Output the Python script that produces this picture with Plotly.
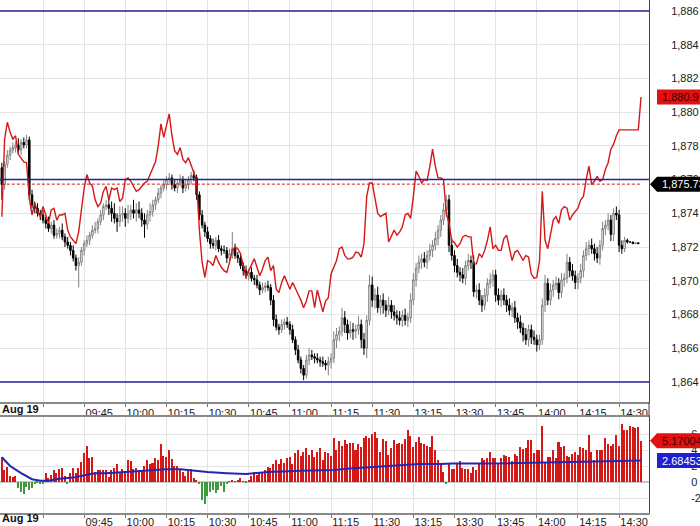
import plotly.graph_objects as go


def _session(start, end):
    h, m = start
    out = []
    while (h, m) <= end:
        out.append(f"{h:02d}:{m:02d}")
        m += 1
        if m == 60:
            h, m = h + 1, 0
    return out


# one bar per minute: morning 09:15-11:30, afternoon from 13:01
minutes = _session((9, 15), (11, 30)) + _session((13, 1), (14, 38))

tick_times = ["09:30", "09:45", "10:00", "10:15", "10:30", "10:45", "11:00",
              "11:15", "11:30", "13:15", "13:30", "13:45", "14:00", "14:15", "14:30"]
date_label = "Aug 19"

first_open = 1876.7
closes = [
    1875.7, 1876.9, 1877.45, 1877.75, 1877.9, 1878.05, 1877.75, 1878.2, 1878.05, 1878.35,
    1875.1, 1874.5, 1874.3, 1874.0, 1873.9, 1873.6, 1873.4, 1873.1, 1873.3, 1872.7,
    1872.8, 1873.0, 1872.6, 1872.3, 1872.1, 1871.8, 1871.35, 1870.9, 1871.1, 1871.8,
    1872.2, 1872.4, 1872.7, 1873.0, 1873.1, 1873.5, 1873.9, 1874.4, 1874.5, 1874.3,
    1874.0, 1873.7, 1873.5, 1873.9, 1874.0, 1873.7, 1874.0, 1874.2, 1874.0, 1874.2,
    1874.0, 1873.6, 1873.35, 1873.9, 1874.1, 1874.5, 1874.8, 1875.2, 1875.5, 1875.7,
    1876.0, 1876.1, 1875.7, 1875.5, 1875.8, 1876.0, 1875.5, 1875.7, 1876.0, 1876.25,
    1876.1, 1875.1, 1873.9, 1873.3, 1872.9, 1872.5, 1872.2, 1872.1, 1872.4, 1871.9,
    1871.8, 1871.8, 1871.35, 1871.6, 1871.9, 1871.5, 1871.35, 1870.9, 1870.6, 1870.3,
    1870.5, 1870.15, 1870.05, 1869.75, 1869.45, 1869.6, 1869.7, 1869.6, 1868.85, 1867.7,
    1867.25, 1867.1, 1867.4, 1867.55, 1867.4, 1867.1, 1866.5, 1865.9, 1865.3, 1864.8,
    1864.4, 1865.3, 1865.6, 1865.5, 1865.4, 1865.3, 1865.2, 1865.1, 1865.0, 1865.2,
    1865.4, 1866.5, 1866.8, 1867.0, 1867.8, 1867.4, 1866.9, 1867.1, 1867.0, 1867.1,
    1867.4, 1866.5, 1866.0, 1867.65, 1869.75, 1868.85, 1869.15, 1868.4, 1868.85, 1868.55,
    1868.25, 1868.55, 1868.15, 1867.95, 1867.8, 1867.65, 1867.95, 1867.65, 1867.8, 1868.85,
    1870.05, 1870.75, 1871.1, 1871.3, 1871.1, 1871.5, 1871.8, 1872.1, 1872.5, 1873.0,
    1873.6, 1874.2, 1874.8, 1872.1, 1871.5, 1870.9, 1870.5, 1870.35, 1870.15, 1870.9,
    1871.2, 1871.1, 1869.35, 1869.45, 1868.85, 1868.55, 1869.15, 1869.85, 1870.05, 1870.35,
    1869.15, 1868.85, 1869.15, 1868.85, 1868.55, 1868.25, 1868.4, 1867.8, 1867.55, 1867.2,
    1866.8, 1866.5, 1867.1, 1866.65, 1866.5, 1866.2, 1866.5, 1868.55, 1869.85, 1868.85,
    1869.45, 1869.75, 1869.85, 1869.3, 1870.05, 1870.15, 1871.1, 1870.6, 1870.3, 1869.9,
    1870.15, 1870.6, 1871.5, 1871.9, 1872.1, 1871.9, 1871.6, 1871.35, 1872.1, 1873.1,
    1873.3, 1873.6, 1872.75, 1874.0, 1873.9, 1872.1, 1871.9, 1872.4, 1872.3, 1872.3,
    1872.2, 1872.25, 1872.2,
]
# wick length above / below each body (price units)
up_wick = [
    0.3, 0.2, 0.3, 0.2, 0.3, 0.2, 0.4, 0.2, 0.3, 0.3,
    0.2, 0.3, 0.2, 0.3, 0.2, 0.3, 0.2, 0.4, 0.2, 0.3,
    0.3, 0.2, 0.4, 0.2, 0.3, 0.2, 0.3, 0.2, 0.3, 0.2,
    0.2, 0.3, 0.2, 0.3, 0.4, 0.2, 0.3, 0.2, 0.3, 0.5,
    0.4, 0.6, 0.3, 0.5, 0.4, 0.3, 0.5, 0.3, 0.6, 0.4,
    0.5, 0.3, 0.4, 0.3, 0.5, 0.3, 0.2, 0.3, 0.2, 0.3,
    0.2, 0.3, 0.2, 0.3, 0.2, 0.3, 0.2, 0.3, 0.2, 0.2,
    0.3, 0.2, 0.2, 0.3, 0.2, 0.3, 0.2, 0.3, 0.2, 0.3,
    0.2, 0.3, 0.2, 0.3, 1.0, 0.3, 0.2, 0.3, 0.2, 0.3,
    0.2, 0.3, 0.2, 0.3, 0.2, 0.3, 0.2, 0.3, 0.2, 0.3,
    0.3, 0.2, 0.3, 0.2, 0.3, 0.2, 0.3, 0.2, 0.3, 0.2,
    0.2, 0.3, 0.4, 0.3, 0.2, 0.3, 0.2, 0.3, 0.2, 0.3,
    0.3, 0.5, 0.4, 0.3, 0.6, 0.4, 0.3, 0.5, 0.4, 0.3,
    0.5, 0.3, 0.4, 0.3, 0.6, 0.5, 0.4, 0.5, 0.3, 0.4,
    0.3, 0.5, 0.3, 0.4, 0.3, 0.4, 0.3, 0.4, 0.3, 0.4,
    0.4, 0.3, 0.4, 0.3, 0.4, 0.3, 0.4, 0.3, 0.4, 0.3,
    0.3, 0.4, 0.3, 0.3, 0.4, 0.3, 0.4, 0.3, 0.4, 0.3,
    0.4, 0.3, 0.4, 0.3, 0.4, 0.3, 0.4, 0.3, 0.4, 0.3,
    0.3, 0.4, 0.3, 0.4, 0.3, 0.4, 0.3, 0.4, 0.3, 0.4,
    0.3, 0.4, 0.3, 0.3, 0.4, 0.3, 0.3, 0.4, 0.5, 0.3,
    0.4, 0.3, 0.4, 0.3, 0.4, 0.3, 0.5, 0.3, 0.4, 0.3,
    0.3, 0.4, 0.3, 0.4, 0.3, 0.4, 0.3, 0.4, 0.3, 0.4,
    0.3, 0.4, 0.3, 0.3, 0.4, 0.3, 0.3, 0.2, 0.1, 0.0,
    0.0, 0.0, 0.0,
]
down_wick = [
    0.9, 0.3, 0.2, 0.3, 0.2, 0.3, 0.2, 0.3, 0.2, 0.2,
    0.3, 0.2, 0.3, 0.2, 0.3, 0.2, 0.3, 0.2, 0.3, 0.2,
    0.2, 0.3, 0.2, 0.3, 0.2, 0.3, 0.2, 0.3, 1.3, 0.2,
    0.3, 0.2, 0.3, 0.2, 0.2, 0.3, 0.2, 0.3, 0.2, 0.4,
    0.5, 0.3, 0.6, 0.3, 0.4, 0.5, 0.3, 0.4, 0.3, 0.5,
    0.3, 0.4, 0.8, 0.3, 0.4, 0.3, 0.3, 0.2, 0.3, 0.2,
    0.3, 0.2, 0.3, 0.2, 0.3, 0.2, 0.3, 0.2, 0.3, 0.3,
    0.2, 0.3, 0.3, 0.2, 0.3, 0.2, 0.3, 0.2, 0.3, 0.2,
    0.3, 0.2, 0.3, 0.2, 0.3, 0.2, 0.3, 0.2, 0.3, 0.2,
    0.3, 0.2, 0.3, 0.2, 0.3, 0.2, 0.3, 0.2, 0.3, 0.4,
    0.2, 0.3, 0.2, 0.3, 0.2, 0.3, 0.2, 0.3, 0.2, 0.3,
    0.3, 0.2, 0.3, 0.2, 0.3, 0.2, 0.3, 0.2, 0.3, 0.6,
    0.4, 0.3, 0.5, 0.4, 0.3, 0.5, 0.4, 0.3, 0.5, 0.4,
    0.3, 0.5, 0.4, 0.6, 0.3, 0.4, 0.5, 0.3, 0.4, 0.5,
    0.4, 0.3, 0.4, 0.3, 0.4, 0.3, 0.4, 0.3, 0.4, 0.3,
    0.3, 0.4, 0.3, 0.4, 0.3, 0.4, 0.3, 0.4, 0.3, 0.4,
    0.4, 0.3, 0.4, 0.4, 0.3, 0.4, 0.3, 0.4, 0.3, 0.4,
    0.3, 0.4, 0.3, 0.4, 0.3, 0.4, 0.3, 0.4, 0.3, 0.4,
    0.4, 0.3, 0.4, 0.3, 0.4, 0.3, 0.4, 0.3, 0.4, 0.3,
    0.4, 0.3, 0.4, 0.4, 0.3, 0.4, 0.3, 0.3, 0.4, 0.3,
    0.3, 0.4, 0.3, 0.4, 0.3, 0.4, 0.3, 0.4, 0.3, 0.4,
    0.4, 0.3, 0.4, 0.3, 0.4, 0.3, 0.4, 0.3, 0.4, 0.3,
    0.4, 0.3, 0.4, 0.4, 0.3, 0.4, 0.3, 0.2, 0.1, 0.0,
    0.0, 0.0, 0.0,
]

red_line = [
    1873.8, 1878.4, 1879.4, 1878.8, 1878.4, 1878.6, 1877.5, 1877.3, 1877.05, 1877.0,
    1874.9, 1873.9, 1874.6, 1874.1, 1873.8, 1874.4, 1873.9, 1873.4, 1874.2, 1874.3,
    1873.6, 1873.9, 1873.9, 1874.0, 1873.0, 1872.6, 1872.4, 1872.2, 1872.9, 1874.3,
    1875.5, 1876.3, 1875.8, 1875.6, 1874.8, 1874.4, 1874.6, 1875.3, 1875.6, 1874.8,
    1875.5, 1875.4, 1875.5, 1874.7, 1874.9, 1876.0, 1876.1, 1875.9, 1875.6, 1875.3,
    1875.4, 1875.6, 1875.8, 1875.9, 1876.3, 1876.7, 1877.05, 1878.0, 1879.3, 1878.5,
    1879.3, 1879.9, 1878.6, 1877.7, 1877.5, 1877.9, 1877.2, 1877.0, 1877.3, 1876.9,
    1876.4, 1875.9, 1873.0, 1871.1, 1870.2, 1871.2, 1871.1, 1870.9, 1871.5, 1871.1,
    1870.8, 1870.6, 1870.5, 1871.1, 1871.8, 1872.0, 1871.9, 1871.6, 1870.9, 1870.2,
    1870.6, 1871.0, 1871.3, 1870.8, 1870.3, 1870.7, 1871.2, 1871.4, 1870.6, 1870.9,
    1869.5, 1869.3, 1869.9, 1870.3, 1869.9, 1869.5, 1869.9, 1869.5, 1869.2, 1868.85,
    1868.4, 1868.8, 1869.4, 1869.4, 1868.4, 1869.45, 1868.8, 1868.15, 1868.8, 1869.0,
    1870.4, 1870.8, 1871.2, 1871.9, 1872.0, 1871.5, 1871.3, 1871.3, 1871.4, 1871.7,
    1871.65, 1871.4, 1872.2, 1875.0, 1875.8, 1875.8, 1875.0, 1874.0, 1873.8, 1873.9,
    1874.0, 1872.3, 1872.7, 1873.0, 1872.7, 1872.9, 1873.2, 1873.9, 1874.0, 1873.7,
    1875.0, 1876.5, 1876.2, 1875.8, 1876.0, 1875.95, 1876.75, 1877.8, 1876.8, 1876.1,
    1876.1, 1876.0, 1874.0, 1873.4, 1872.4, 1872.25, 1872.0, 1872.2, 1872.6, 1872.7,
    1872.6, 1872.6, 1871.0, 1871.0, 1871.6, 1871.4, 1871.8, 1872.4, 1873.2, 1871.9,
    1872.1, 1871.8, 1871.8, 1872.5, 1872.7, 1872.0, 1871.2, 1871.7, 1871.8, 1871.5,
    1871.2, 1871.5, 1871.4, 1870.4, 1870.15, 1870.2, 1871.2, 1875.3, 1872.4, 1871.9,
    1872.8, 1873.6, 1873.8, 1873.4, 1874.2, 1874.4, 1874.3, 1873.6, 1873.9, 1874.1,
    1874.3, 1874.8, 1875.0, 1876.0, 1876.8, 1875.7, 1875.9, 1876.2, 1875.9, 1876.0,
    1876.6, 1877.0, 1877.8, 1878.1, 1878.6, 1878.95, 1878.95, 1878.95, 1878.95, 1878.95,
    1878.95, 1878.95, 1878.95, 1880.9,
]

osc_bars = [
    3.1, 1.5, 1.9, 0.7, 0.6, 0.8, -0.75, -1.2, -1.45, -0.6,
    -1.0, -0.75, -0.3, -0.1, -0.3, -0.25, 1.1, 0.5, 0.9, 1.5,
    1.1, 1.6, 1.7, 0.8, -0.3, 1.1, 1.75, 1.1, 1.75, 2.5,
    3.6, 4.5, 3.0, 3.1, 1.3, 1.5, 1.5, 1.5, 1.5, 0.6,
    1.5, 1.75, 2.25, 1.1, 1.6, 1.3, 2.7, 2.6, 1.6, 1.8,
    1.3, 1.5, 2.0, 2.8, 2.2, 2.4, 3.0, 2.8, 4.7, 3.3,
    3.1, 4.0, 2.9, 2.0, 2.0, 1.6, 1.3, 0.8, 1.5, 1.6,
    0.5, 0.3, -0.3, -2.2, -2.8, -1.8, -1.2, -1.0, -1.4, -1.0,
    -0.55, -1.2, -0.3, 0.1, 0.3, 0.1, 0.15, 0.5, 0.1, -0.1,
    0.3, 0.8, 1.3, 0.9, 1.1, 1.3, 1.5, 1.9, 1.75, 2.2,
    2.7, 2.3, 2.9, 2.4, 3.0, 3.1, 2.2, 3.6, 4.0, 3.2,
    3.8, 4.25, 3.4, 4.0, 3.1, 3.7, 4.25, 2.8, 3.8, 3.6,
    3.3, 5.5, 4.0, 5.1, 4.5, 5.3, 4.7, 4.9, 4.9, 4.0,
    4.7, 4.4, 5.5, 5.7, 5.5, 6.0, 6.2, 5.5, 3.8, 5.4,
    5.1, 3.4, 4.25, 5.3, 4.7, 4.9, 4.8, 5.4, 6.5, 5.8,
    4.4, 5.0, 5.6, 4.9, 4.8, 4.45, 4.4, 5.8, 4.0, 2.7,
    2.2, 1.2, -0.3, 2.2, 1.6, 1.6, 2.2, 2.6, 1.75, 1.6,
    1.6, 1.1, 1.9, 1.5, 2.2, 3.0, 2.7, 3.0, 3.7, 3.0,
    3.0, 2.2, 3.0, 3.4, 3.3, 3.1, 2.6, 3.5, 3.2, 4.4,
    4.1, 4.2, 5.3, 5.3, 3.6, 4.0, 4.0, 7.0, 2.4, 3.1,
    3.1, 4.0, 3.0, 5.0, 4.4, 4.5, 3.3, 3.1, 3.5, 3.8,
    3.4, 4.4, 4.2, 4.0, 5.9, 3.8, 2.8, 4.0, 4.0, 4.0,
    5.5, 4.7, 4.5, 4.8, 5.9, 4.45, 7.2, 6.5, 6.5, 7.0,
    6.9, 6.75, 6.9, 5.17,
]

# smoothed average of the oscillator (bar index, value)
avg_idx = [0, 3, 7, 11, 14, 17, 21, 26, 31, 34, 38, 48, 55, 60, 65, 70, 75, 82,
           89, 92, 97, 109, 121, 127, 140, 152, 160, 164, 176, 188, 201, 213, 225, 233]
avg_val = [3.1, 2.0, 1.1, 0.35, 0.15, 0.15, 0.4, 0.55, 0.9, 1.1, 1.1, 1.3, 1.5, 1.6,
           1.6, 1.4, 1.25, 1.1, 1.0, 1.1, 1.25, 1.4, 1.5, 1.7, 2.0, 2.25, 2.25, 2.3,
           2.3, 2.4, 2.45, 2.55, 2.62, 2.68]

levels = [1886, 1876, 1864]
ref_price = 1875.73
last_red = 1880.9
osc_last = 5.17004
avg_last = 2.68453

main_ticks = list(range(1864, 1887, 2))
osc_ticks = [-2, 0, 2, 4, 6]

NAVY = "#23239a"
RED = "#d41818"
GRID = "#e4e4e4"
FONT = "Liberation Sans, Arial, sans-serif"

# candle bodies: open is previous close
opens = [first_open] + closes[:-1]
highs = [max(o, c) + w for o, c, w in zip(opens, closes, up_wick)]
lows = [min(o, c) - w for o, c, w in zip(opens, closes, down_wick)]
idx = list(range(len(minutes)))
tick_idx = [minutes.index(t) for t in tick_times]
tick_txt = ["" if t == "09:30" else t for t in tick_times]

MAIN_DOM = [0.2164, 1.0]
OSC_DOM = [0.0, 0.1871]
MAIN_RNG = [1862.81, 1886.65]
OSC_RNG = [-3.875, 8.125]
X_RNG = [-0.68, 235.9]


def to_paper(v, rng, dom):
    return dom[0] + (v - rng[0]) / (rng[1] - rng[0]) * (dom[1] - dom[0])


fig = go.Figure()

fig.add_trace(go.Scatter(
    x=[idx[0], idx[len(closes)]], y=[ref_price, ref_price], mode="lines",
    line=dict(color=RED, width=1, dash="3px,2px"), hoverinfo="skip",
))
fig.add_trace(go.Candlestick(
    x=idx[:len(closes)], open=opens, high=highs, low=lows, close=closes,
    increasing=dict(line=dict(color="#808080", width=1), fillcolor="#ffffff"),
    decreasing=dict(line=dict(color="#000000", width=1), fillcolor="#000000"),
    whiskerwidth=0, hoverinfo="skip", xaxis="x", yaxis="y",
))
for lv in levels:
    fig.add_hline(y=lv, line=dict(color=NAVY, width=1.5), layer="above")
fig.add_trace(go.Scatter(
    x=idx, y=red_line, mode="lines", line=dict(color=RED, width=1.4),
    hoverinfo="skip", xaxis="x", yaxis="y",
))

fig.add_trace(go.Bar(
    x=idx, y=osc_bars, width=0.55,
    marker=dict(color=[RED if v >= 0 else "#3d9a3d" for v in osc_bars], line_width=0),
    hoverinfo="skip", xaxis="x2", yaxis="y2",
))
fig.add_trace(go.Scatter(
    x=avg_idx, y=avg_val, mode="lines", line=dict(color="#2525b5", width=2),
    hoverinfo="skip", xaxis="x2", yaxis="y2",
))

xcommon = dict(
    range=X_RNG, tickvals=tick_idx, ticktext=tick_txt, ticks="outside", ticklen=3,
    tickcolor="#777", showline=True, linecolor="#8a8a8a", linewidth=1.5,
    showgrid=True, gridcolor=GRID, zeroline=False, ticklabelposition="outside right",
    tickfont=dict(family=FONT, size=11, color="#222"), automargin=False,
)
fig.update_layout(
    width=700, height=526, margin=dict(l=0, r=51, t=0, b=13, autoexpand=False),
    paper_bgcolor="white", plot_bgcolor="white", showlegend=False,
    bargap=0, boxgap=0.2,
    xaxis=dict(anchor="y", domain=[0, 1], rangeslider=dict(visible=False), **xcommon),
    xaxis2=dict(anchor="y2", domain=[0, 1], mirror=True, ticklabelstandoff=-2, **xcommon),
    yaxis=dict(
        domain=MAIN_DOM, range=MAIN_RNG, side="right", tickvals=main_ticks,
        ticktext=[f"{v:,d}" for v in main_ticks], showline=True, linecolor="#444",
        gridcolor=GRID, zeroline=False, ticks="", ticklabelstandoff=19, automargin=False,
        tickfont=dict(family=FONT, size=11, color="#222"),
    ),
    yaxis2=dict(
        domain=OSC_DOM, range=OSC_RNG, side="right", tickvals=osc_ticks,
        ticktext=[str(v) for v in osc_ticks], showline=True, linecolor="#444",
        gridcolor=GRID, zeroline=True, zerolinecolor="#c8c8c8", ticks="", automargin=False,
        ticklabelstandoff=39, tickfont=dict(family=FONT, size=11, color="#222"),
    ),
)

# right border across the gap between the panels
fig.add_shape(type="line", xref="paper", yref="paper", x0=1, x1=1,
              y0=OSC_DOM[1], y1=MAIN_DOM[0], line=dict(color="#444", width=1))

for ypos in (MAIN_DOM[0] - 0.0138, -0.0097):
    fig.add_annotation(text=f"<b>{date_label}</b>", xref="x", x=tick_idx[0], xanchor="right",
                       xshift=-2, yref="paper", y=ypos, yanchor="middle", showarrow=False,
                       font=dict(family=FONT, size=11, color="#111"))

H = 7.5 / 513
TIP, SHOULDER, RIGHT = 650 / 649, 657 / 649, 1.09


def tag(value, rng, dom, text, bg, fg, pointed):
    yc = to_paper(value, rng, dom)
    if pointed:
        path = (f"M {TIP},{yc} L {SHOULDER},{yc + H} L {RIGHT},{yc + H} "
                f"L {RIGHT},{yc - H} L {SHOULDER},{yc - H} Z")
        fig.add_shape(type="path", path=path, xref="paper", yref="paper",
                      fillcolor=bg, line=dict(color=bg, width=0), layer="above")
    else:
        fig.add_shape(type="rect", xref="paper", yref="paper", x0=SHOULDER, x1=RIGHT,
                      y0=yc - H, y1=yc + H, fillcolor=bg, line=dict(width=0), layer="above")
    fig.add_annotation(text=text, xref="paper", x=660 / 649, xanchor="left",
                       yref="paper", y=yc, yanchor="middle", showarrow=False,
                       font=dict(family=FONT, size=11, color=fg))


tag(last_red, MAIN_RNG, MAIN_DOM, f"{last_red:,.1f}", "#e31010", "#3a0000", False)
tag(ref_price, MAIN_RNG, MAIN_DOM, f"{ref_price:,.2f}", "#000000", "#ffffff", True)
tag(osc_last, OSC_RNG, OSC_DOM, f"{osc_last:.5f}", "#e31010", "#3a0000", True)
tag(avg_last, OSC_RNG, OSC_DOM, f"{avg_last:.5f}", "#2020d0", "#ffffff", False)

# page body margin off so the figure fills the window from the corner
fig.write_html("out.html", config={"displayModeBar": False},
               post_script="document.body.style.margin='0';")
